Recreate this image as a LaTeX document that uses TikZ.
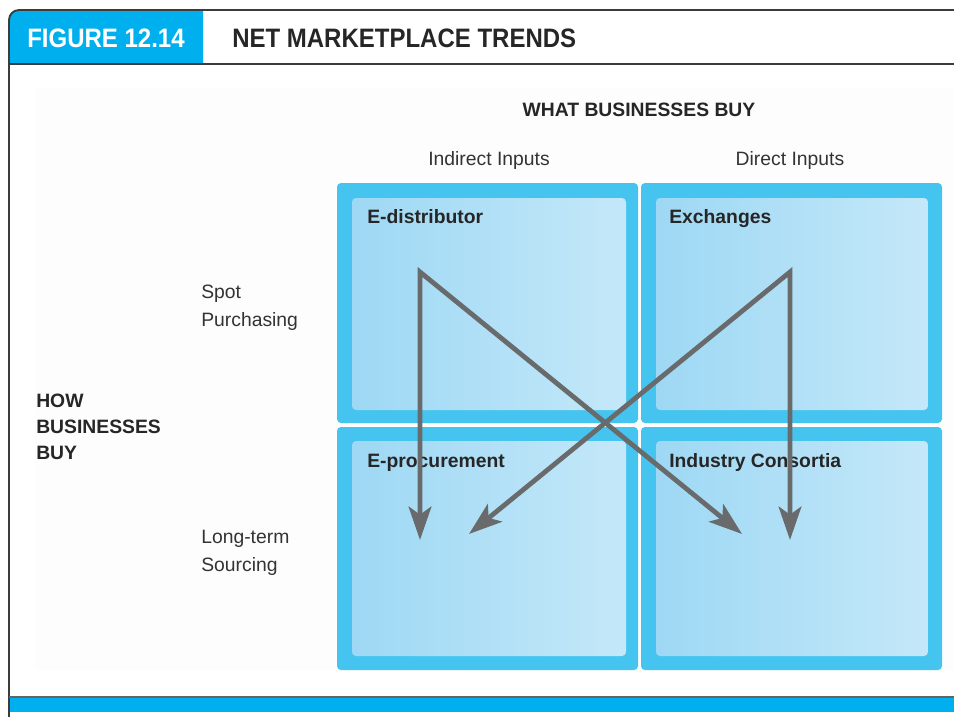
\documentclass[tikz,border=0pt]{standalone}
\usepackage{fontspec}
\setmainfont{Liberation Sans}
\newfontfamily\headfont[FakeStretch=0.9]{Liberation Sans}
\usetikzlibrary{arrows.meta}
\definecolor{hdrblue}{RGB}{0,176,238}
\definecolor{frameclr}{RGB}{60,60,60}
\definecolor{outerblue}{RGB}{70,196,240}
\definecolor{innerL}{RGB}{158,216,244}
\definecolor{innerR}{RGB}{196,232,249}
\definecolor{arrowgray}{RGB}{105,106,108}
\definecolor{bgpale}{RGB}{253,253,253}
\begin{document}
\begin{tikzpicture}[x=0.75pt,y=-0.75pt,
  outerbox/.style={fill=outerblue,draw=none,rounded corners=3pt},
  innerbox/.style={left color=innerL,right color=innerR,draw=none,rounded corners=3pt},
  boxlabel/.style={anchor=base west,font=\bfseries\fontsize{14.5}{17}\selectfont,text=black!85,inner sep=0pt},
  axislabel/.style={font=\fontsize{14.5}{21}\selectfont,text=black!80,inner sep=0pt},
  trend/.style={draw=arrowgray,line width=3.6pt,line join=miter,
     {Stealth[length=25pt,width=17pt,inset=6pt]}-{Stealth[length=25pt,width=17pt,inset=6pt]}}]
\useasboundingbox (0,0) rectangle (954,717);
\fill[white] (0,0) rectangle (954,717);
% faint background panel
\fill[bgpale] (35,88) rectangle (954,670);
% header
\fill[hdrblue] (9,64) -- (9,20) arc[start angle=180,end angle=90,radius=7.5pt] -- (203,10) -- (203,64) -- cycle;
\node[anchor=center,text=white,inner sep=0pt,font=\headfont\bfseries\fontsize{20}{22}\selectfont] (fig) at (106,38) {FIGURE 12.14};
\node[anchor=west,text=black!85,inner sep=0pt,font=\headfont\bfseries\fontsize{20}{22}\selectfont] (title) at (232,38) {NET MARKETPLACE TRENDS};
\draw[frameclr,line width=1.4pt] (954,10) -- (19,10) arc[start angle=90,end angle=180,radius=7.5pt] -- (9,717);
\draw[frameclr,line width=1.4pt] (9,64) -- (954,64);
% footer
\draw[frameclr!80,line width=1.2pt] (9,697) -- (954,697);
\fill[hdrblue] (10,698) rectangle (954,712);
% grid
\fill[outerbox] (337,183) rectangle (638,423);
\fill[outerbox] (641,183) rectangle (942,423);
\fill[outerbox] (337,427) rectangle (638,670);
\fill[outerbox] (641,427) rectangle (942,670);
\shade[innerbox] (352,198) rectangle (626,410);
\shade[innerbox] (656,198) rectangle (928,410);
\shade[innerbox] (352,441) rectangle (626,656);
\shade[innerbox] (656,441) rectangle (928,656);
% labels
\node[font=\bfseries\fontsize{14.5}{17}\selectfont,text=black!85,inner sep=0pt] (what) at (639,110) {WHAT BUSINESSES BUY};
\node[axislabel] (ind) at (489,161) {Indirect Inputs};
\node[axislabel] (dir) at (790,161) {Direct Inputs};
\node[axislabel,anchor=north west,align=left] (spot) at (201,285) {Spot\\Purchasing};
\node[axislabel,anchor=north west,align=left] (long) at (201,530) {Long-term\\Sourcing};
\node[anchor=north west,align=left,inner sep=0pt,font=\bfseries\fontsize{14.5}{19.5}\selectfont,text=black!85] (how) at (36,394) {HOW\\BUSINESSES\\BUY};
\node[boxlabel] (edist) at (367,223) {E-distributor};
\node[boxlabel] (exch) at (669,223) {Exchanges};
\node[boxlabel] (eproc) at (367,467) {E-procurement};
\node[boxlabel] (cons) at (669,467) {Industry Consortia};
% arrows
\coordinate (apexL) at (420,272);
\coordinate (apexR) at (790,272);
\coordinate (tipLL) at (420,540);
\coordinate (tipLR) at (742,534);
\coordinate (tipRR) at (790,540);
\coordinate (tipRL) at (469,534);
\draw[trend] (tipLR) -- (apexL) -- (tipLL);
\draw[trend] (tipRL) -- (apexR) -- (tipRR);
\end{tikzpicture}
\end{document}
